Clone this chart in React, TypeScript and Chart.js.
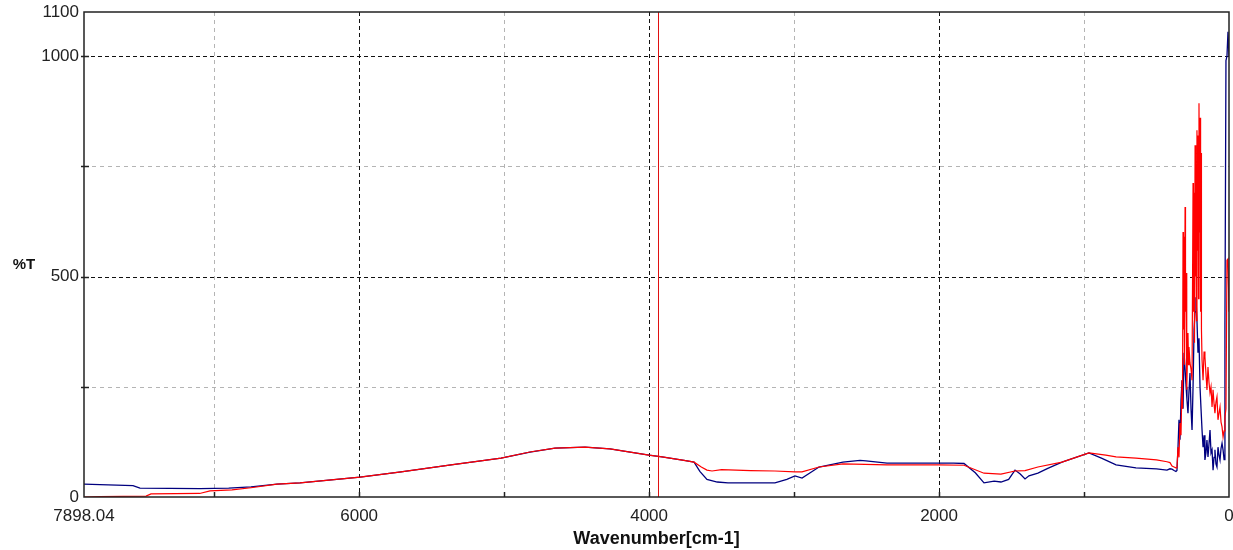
import React, { useEffect, useRef } from 'react';
import { Chart, registerables } from 'chart.js';

Chart.register(...registerables);

// ---- axis / tick data ----
const xTickValues = [7898.04, 6000, 4000, 2000, 0];
const yTickValues = [0, 500, 1000, 1100];
const xGridMajor = [6000, 4000, 2000];
const xGridMinor = [7000, 5000, 3000, 1000];
const yGridMajor = [500, 1000];
const yGridMinor = [250, 750];
const cursorWavenumber = 3938;
const xTitle = 'Wavenumber[cm-1]';
const yTitle = '%T';

// ---- red spectrum ----
const redWavenumbers = [
  7898, 7788, 7470, 7436, 7100, 7029, 6877, 6746, 6567, 6408, 5994, 5711, 5366, 5021, 4822, 4649,
  4442, 4270, 4001, 3911, 3759, 3690, 3640, 3601, 3566, 3500, 3300, 3132, 2994, 2945, 2828, 2663,
  2359, 2000, 1828, 1690, 1573, 1476, 1407, 1318, 1152, 966, 850, 779, 642,
  500, 428, 407, 393, 379, 366, 359, 352, 345, 338, 331, 324, 321, 317, 314, 310, 307, 303,
  300, 296, 293, 290, 283, 279, 276, 269, 262, 255, 248, 245, 241, 238, 234, 231, 228, 224,
  221, 217, 214, 210, 207, 203, 200, 196, 193, 190, 186, 179, 172, 166, 159, 152, 145, 138,
  131, 124, 117, 110, 103, 97, 90, 83, 76, 69, 62, 55, 48, 41, 34, 28, 21, 14, 7, 0,
];
const redTransmittance = [
  0, 1, 2, 7, 8, 14, 16, 21, 29, 32, 45, 57, 73, 88, 102, 111,
  113, 109, 95, 91, 83, 79, 68, 61, 59, 62, 60, 59, 57, 57, 68, 75,
  73, 73, 72, 54, 52, 59, 60, 68, 79, 100, 95, 91, 88,
  84, 80, 78, 70, 68, 66, 66, 113, 90, 168, 140, 265, 200, 601, 380, 590, 300, 658,
  420, 508, 260, 243, 372, 300, 340, 304, 290, 265, 712, 420, 690, 350, 798, 500, 760, 400,
  832, 560, 820, 450, 893, 600, 860, 420, 780, 380, 311, 265, 330, 318, 280, 243, 295, 260,
  236, 250, 204, 243, 210, 190, 215, 227, 175, 190, 204, 170, 159, 136, 150, 181, 200, 537, 540, 420,
];

// ---- blue spectrum ----
const blueWavenumbers = [
  7898, 7788, 7560, 7512, 7098, 6900, 6746, 6567, 6408, 5994, 5711, 5366, 5021, 4822, 4649, 4442,
  4270, 4001, 3911, 3759, 3690, 3650, 3601, 3530, 3456, 3132, 3050, 2994, 2945,
  2828, 2663, 2545, 2504, 2359, 1900, 1828, 1750, 1690, 1620, 1573, 1520, 1476, 1440, 1407, 1380,
  1318, 1250, 1152, 966, 880, 779, 642, 500, 428, 407, 393, 379, 366, 359, 352, 345, 338, 331,
  324, 317, 310, 303, 296, 290, 283, 276, 269, 262, 255, 248, 241, 234, 228, 221, 214, 207,
  200, 193, 186, 179, 172, 166, 159, 152, 145, 138, 131, 124, 117, 110, 103, 97, 90, 83,
  76, 69, 62, 55, 48, 41, 34, 28, 21, 14, 7, 0,
];
const blueTransmittance = [
  29, 28, 26, 20, 19, 20, 23, 29, 32, 45, 57, 73, 88, 102, 111, 113,
  109, 95, 91, 83, 79, 58, 40, 34, 32, 32, 40, 48, 43,
  68, 79, 83, 82, 77, 77, 76, 55, 32, 36, 34, 40, 61, 52, 41, 48,
  54, 65, 79, 100, 88, 73, 66, 64, 61, 64, 63, 60, 58, 60, 110, 175, 130, 220,
  265, 200, 327, 290, 250, 220, 190, 240, 281, 200, 152, 250, 380, 420, 453, 401, 327, 360,
  250, 200, 152, 113, 140, 84, 100, 129, 91, 120, 152, 100, 107, 61, 90, 107, 75, 68,
  113, 95, 84, 110, 122, 107, 85, 395, 990, 1000, 1055, 1000,
];

const FONT = '"Liberation Sans", Arial, sans-serif';

const toPoints = (xs: number[], ys: number[]) => xs.map((x, i) => ({ x, y: ys[i] }));

const spectrumPlugin = {
  id: 'spectrumDecor',
  beforeDatasetsDraw(chart: any) {
    const { ctx, chartArea: a, scales } = chart;
    const x = scales.x;
    const y = scales.y;
    ctx.save();
    ctx.lineWidth = 1;
    const vline = (v: number, color: string, dash: number[]) => {
      const px = Math.round(x.getPixelForValue(v)) + 0.5;
      ctx.strokeStyle = color;
      ctx.setLineDash(dash);
      ctx.beginPath();
      ctx.moveTo(px, a.top);
      ctx.lineTo(px, a.bottom);
      ctx.stroke();
    };
    const hline = (v: number, color: string, dash: number[]) => {
      const py = Math.round(y.getPixelForValue(v)) + 0.5;
      ctx.strokeStyle = color;
      ctx.setLineDash(dash);
      ctx.beginPath();
      ctx.moveTo(a.left, py);
      ctx.lineTo(a.right, py);
      ctx.stroke();
    };
    xGridMinor.forEach((v) => vline(v, '#b4b4b4', [4, 4]));
    yGridMinor.forEach((v) => hline(v, '#b4b4b4', [4, 4]));
    xGridMajor.forEach((v) => vline(v, '#111111', [4, 3]));
    yGridMajor.forEach((v) => hline(v, '#111111', [4, 3]));
    ctx.restore();
  },
  afterDatasetsDraw(chart: any) {
    const { ctx, chartArea: a, scales } = chart;
    const x = scales.x;
    const y = scales.y;
    ctx.save();
    // cursor line
    const cx = Math.round(x.getPixelForValue(cursorWavenumber)) + 0.5;
    ctx.strokeStyle = '#e01010';
    ctx.lineWidth = 1;
    ctx.beginPath();
    ctx.moveTo(cx, a.top);
    ctx.lineTo(cx, a.bottom);
    ctx.stroke();
    // frame
    ctx.strokeStyle = '#222222';
    ctx.lineWidth = 1.5;
    ctx.strokeRect(a.left, a.top, a.right - a.left, a.bottom - a.top);
    // tick marks
    ctx.lineWidth = 1.5;
    [...xGridMajor, ...xGridMinor].forEach((v) => {
      const px = Math.round(x.getPixelForValue(v)) + 0.5;
      ctx.beginPath();
      ctx.moveTo(px, a.bottom);
      ctx.lineTo(px, a.bottom - 5);
      ctx.stroke();
    });
    [...yGridMajor, ...yGridMinor].forEach((v) => {
      const py = Math.round(y.getPixelForValue(v)) + 0.5;
      ctx.beginPath();
      ctx.moveTo(a.left - 3, py);
      ctx.lineTo(a.left + 5, py);
      ctx.stroke();
    });
    ctx.restore();
  },
  afterDraw(chart: any) {
    const { ctx, chartArea: a } = chart;
    ctx.save();
    ctx.fillStyle = '#111111';
    ctx.font = `bold 15px ${FONT}`;
    ctx.textAlign = 'center';
    ctx.textBaseline = 'middle';
    ctx.fillText(yTitle, 24, (a.top + a.bottom) / 2 + 10);
    ctx.restore();
  },
};

export default function App() {
  const canvasRef = useRef<HTMLCanvasElement | null>(null);

  useEffect(() => {
    document.body.style.margin = '0';
    const canvas = canvasRef.current;
    if (!canvas) return;
    const chart = new Chart(canvas, {
      type: 'line',
      data: {
        datasets: [
          {
            label: 'red',
            data: toPoints(redWavenumbers, redTransmittance),
            borderColor: '#ff0000',
            borderWidth: 1.2,
            pointRadius: 0,
            tension: 0,
            fill: false,
          },
          {
            label: 'blue',
            data: toPoints(blueWavenumbers, blueTransmittance),
            borderColor: '#00007f',
            borderWidth: 1.3,
            pointRadius: 0,
            tension: 0,
            fill: false,
          },
        ],
      },
      options: {
        responsive: false,
        animation: false,
        devicePixelRatio: 1,
        layout: { padding: { top: 12, right: 4, left: 0, bottom: 0 } },
        plugins: { legend: { display: false }, tooltip: { enabled: false } },
        scales: {
          x: {
            type: 'linear',
            reverse: true,
            min: 0,
            max: 7898.04,
            afterBuildTicks: (scale: any) => {
              scale.ticks = xTickValues.map((value) => ({ value }));
            },
            afterFit: (scale: any) => {
              scale.height = 53;
              scale.paddingLeft = 0;
              scale.paddingRight = 0;
            },
            grid: { display: false, drawTicks: false },
            border: { display: false },
            ticks: {
              autoSkip: false,
              maxRotation: 0,
              padding: 9,
              color: '#222222',
              font: { family: FONT, size: 17 },
              callback: (v: any) => (v === 7898.04 ? '7898.04' : String(v)),
            },
            title: {
              display: true,
              text: xTitle,
              color: '#111111',
              font: { family: FONT, size: 18, weight: 'bold' },
              padding: { top: 0, bottom: 0 },
            },
          },
          y: {
            type: 'linear',
            min: 0,
            max: 1100,
            afterBuildTicks: (scale: any) => {
              scale.ticks = yTickValues.map((value) => ({ value }));
            },
            afterFit: (scale: any) => {
              scale.width = 84;
              scale.paddingTop = 0;
              scale.paddingBottom = 0;
            },
            grid: { display: false, drawTicks: false },
            border: { display: false },
            ticks: {
              autoSkip: false,
              padding: 5,
              color: '#222222',
              font: { family: FONT, size: 17 },
              callback: (v: any) => String(v),
            },
          },
        },
      },
      plugins: [spectrumPlugin],
    } as any);
    return () => chart.destroy();
  }, []);

  return (
    <div style={{ width: 1233, height: 550, background: '#ffffff' }}>
      <canvas ref={canvasRef} width={1233} height={550} style={{ display: 'block' }} />
    </div>
  );
}
